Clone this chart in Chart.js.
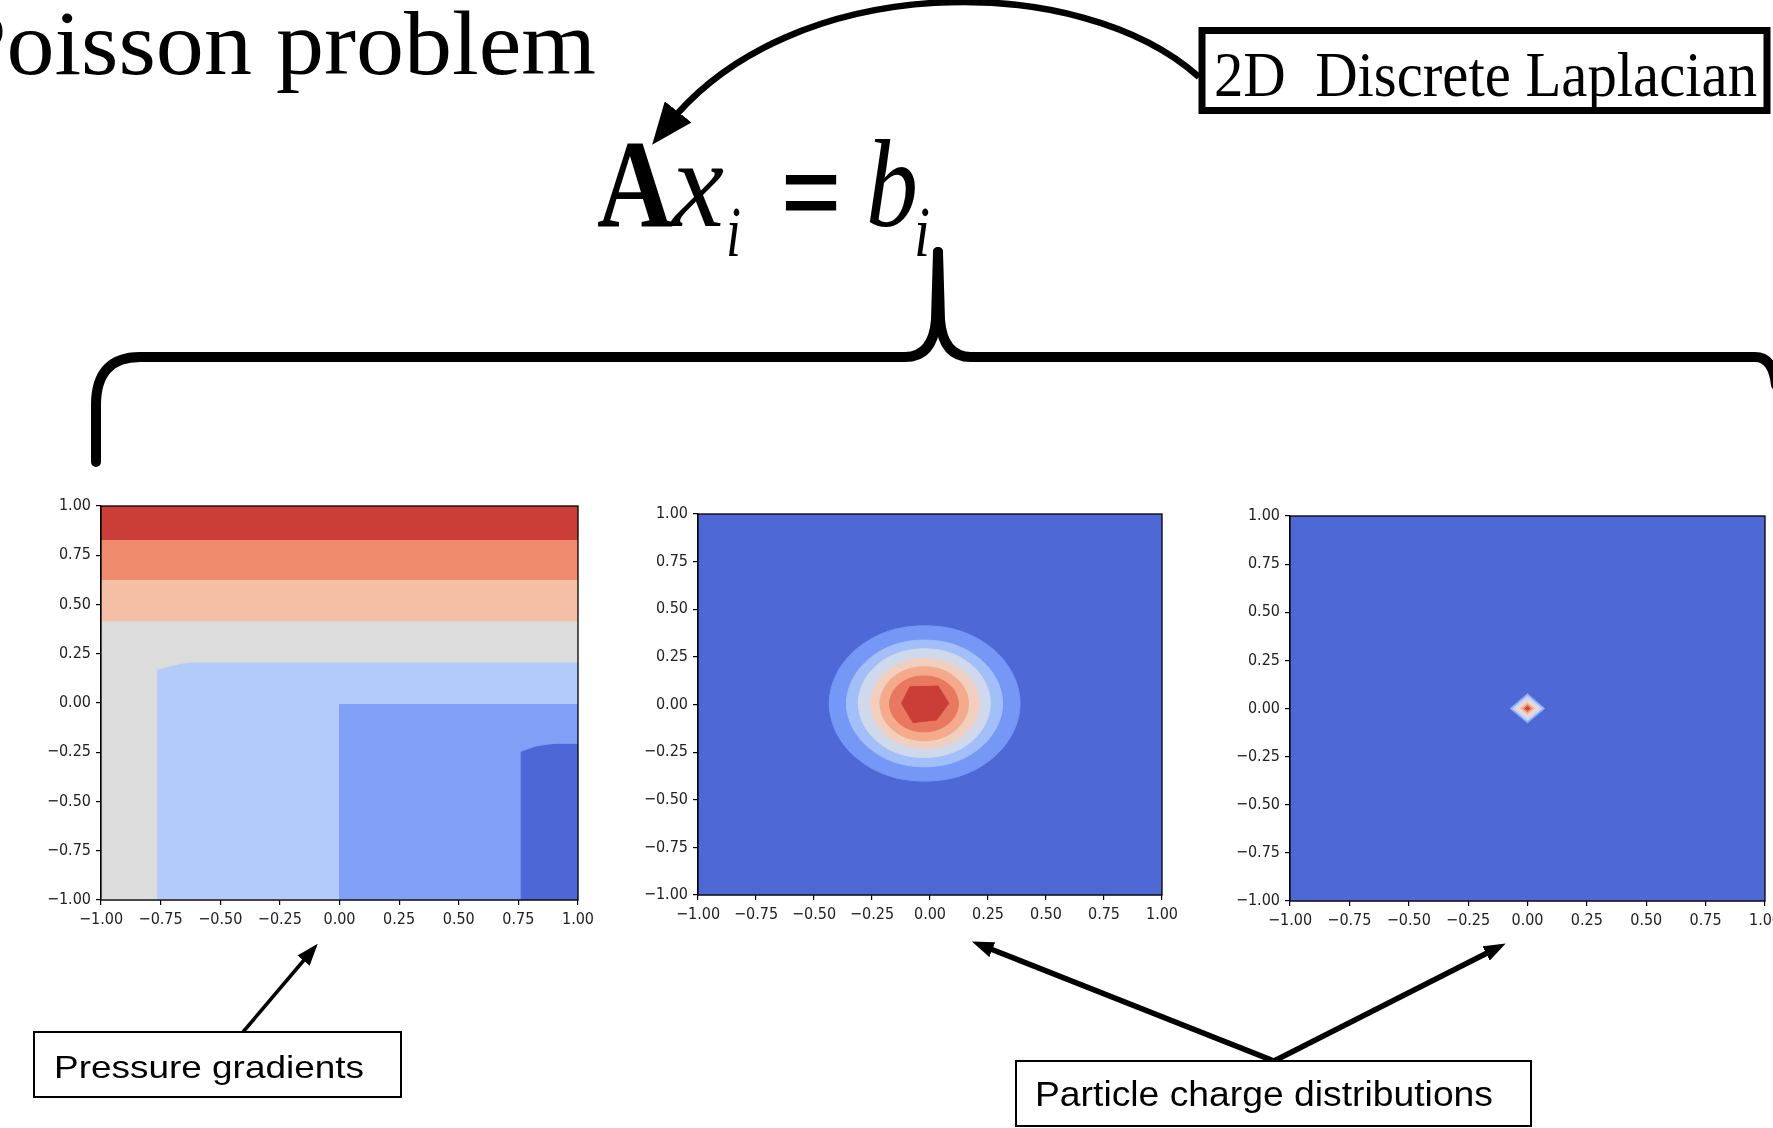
<!DOCTYPE html>
<html>
<head>
<meta charset="utf-8">
<title>Poisson problem</title>
<script src="https://cdn.jsdelivr.net/npm/chart.js@4.4.1/dist/chart.umd.min.js"></script>
<style>
  html, body { margin: 0; padding: 0; background: #fff; width: 1773px; height: 1128px; overflow: hidden; }
  canvas { position: absolute; }
  svg { position: absolute; left: 0; top: 0; pointer-events: none; }
  .serif { font-family: "Liberation Serif", "DejaVu Serif", serif; }
  .sans { font-family: "Liberation Sans", Arial, sans-serif; }
</style>
</head>
<body>
<canvas id="pressureChart" width="577" height="449" style="left:31px;top:491px"></canvas>
<canvas id="blobChart" width="564" height="436" style="left:628px;top:499px"></canvas>
<canvas id="pointChart" width="575" height="440" style="left:1220px;top:501px"></canvas>

<svg width="1773" height="1128" viewBox="0 0 1773 1128">
  <defs>
    <marker id="bigHead" markerUnits="userSpaceOnUse" markerWidth="42" markerHeight="34" refX="18" refY="17" orient="auto">
      <path d="M0,0 L42,17 L0,34 Z" fill="#000"/>
    </marker>
    <marker id="smallHead" markerUnits="userSpaceOnUse" markerWidth="22" markerHeight="16" refX="10" refY="8" orient="auto">
      <path d="M0,0 L22,8 L0,16 Z" fill="#000"/>
    </marker>
  </defs>

  <!-- titulo y ecuacion -->
  <text class="serif" x="-47" y="74" font-size="92" textLength="643" lengthAdjust="spacingAndGlyphs">Poisson problem</text>
  <text class="serif" x="597" y="226" font-size="124" font-weight="bold" textLength="76" lengthAdjust="spacingAndGlyphs">A</text>
  <text class="serif" x="672" y="226" font-size="124" font-style="italic" textLength="52" lengthAdjust="spacingAndGlyphs">x</text>
  <text class="serif" x="726" y="256" font-size="72" font-style="italic" textLength="15" lengthAdjust="spacingAndGlyphs">i</text>
  <text class="serif" x="782" y="236" font-size="130" stroke="#000" stroke-width="3" textLength="58" lengthAdjust="spacingAndGlyphs">=</text>
  <text class="serif" x="866" y="226" font-size="124" font-style="italic" textLength="52" lengthAdjust="spacingAndGlyphs">b</text>
  <text class="serif" x="914" y="256" font-size="72" font-style="italic" textLength="16" lengthAdjust="spacingAndGlyphs">i</text>

  <!-- caja "2D Discrete Laplacian" y flecha curva -->
  <rect x="1202" y="30.5" width="565" height="80" fill="#fff" stroke="#000" stroke-width="7"/>
  <text class="serif" x="1214" y="96" font-size="64" textLength="543" lengthAdjust="spacingAndGlyphs" style="white-space:pre">2D  Discrete Laplacian</text>
  <path d="M1199,77 C1080,-30 790,-30 667,126" fill="none" stroke="#000" stroke-width="6.5" marker-end="url(#bigHead)"/>

  <!-- llave -->
  <path d="M96,462 L96,405 Q96,357 140,357 L905,357 Q933,357 936,320 L938,252" fill="none" stroke="#000" stroke-width="10" stroke-linejoin="round" stroke-linecap="round"/>
  <path d="M938,252 L940,320 Q943,357 971,357 L1755,357 Q1773,357 1776,385" fill="none" stroke="#000" stroke-width="10" stroke-linejoin="round" stroke-linecap="round"/>

  <!-- cajas inferiores -->
  <path d="M243,1032 L310,953" fill="none" stroke="#000" stroke-width="3.5" marker-end="url(#smallHead)"/>
  <rect x="34" y="1032" width="367" height="65" fill="#fff" stroke="#000" stroke-width="2"/>
  <text class="sans" x="54" y="1078" font-size="32" textLength="310" lengthAdjust="spacingAndGlyphs">Pressure gradients</text>

  <path d="M1274,1061 L983,946" fill="none" stroke="#000" stroke-width="5.5" marker-end="url(#smallHead)"/>
  <path d="M1274,1061 L1495,949" fill="none" stroke="#000" stroke-width="5.5" marker-end="url(#smallHead)"/>
  <rect x="1016" y="1061" width="515" height="65" fill="#fff" stroke="#000" stroke-width="2"/>
  <text class="sans" x="1035" y="1106" font-size="35" textLength="458" lengthAdjust="spacingAndGlyphs">Particle charge distributions</text>
</svg>

<script>
// Ticks compartidos por los tres graficos
const tickValues = [-1, -0.75, -0.5, -0.25, 0, 0.25, 0.5, 0.75, 1];
const tickLabels = ["\u22121.00", "\u22120.75", "\u22120.50", "\u22120.25", "0.00", "0.25", "0.50", "0.75", "1.00"];

// Grafico 1: gradientes de presion (regiones de contorno, de abajo hacia arriba)
const pressureColors = ["#dcdcdc", "#f5bfa6", "#ef8a6c", "#cb3e38", "#b2cbf9", "#7fa0f6", "#4d68d6"];
const pressureGray = [[-1, -1], [1, -1], [1, 1], [-1, 1]];
const pressureLightSalmon = [[-1, 0.417], [1, 0.417], [1, 1], [-1, 1]];
const pressureSalmon = [[-1, 0.627], [1, 0.627], [1, 1], [-1, 1]];
const pressureRed = [[-1, 0.83], [1, 0.83], [1, 1], [-1, 1]];
const pressureLightBlue = [[-0.762, -1], [-0.762, 0.166], [-0.72, 0.18], [-0.688, 0.19], [-0.655, 0.198], [-0.623, 0.203], [1, 0.203], [1, -1]];
const pressureBlue = [[0, -1], [0, -0.008], [1, -0.008], [1, -1]];
const pressureDarkBlue = [[0.762, -1], [0.762, -0.249], [0.79, -0.237], [0.822, -0.224], [0.855, -0.217], [0.903, -0.21], [1, -0.21], [1, -1]];

// Grafico 2: distribucion de carga ancha (anillos de afuera hacia adentro)
const blobColors = ["#4e68d6", "#7597f5", "#a2bffa", "#cfd9eb", "#f0cfbe", "#f5aa8c", "#e8785f", "#cb3e38"];
const blobBackground = [[-1, -1], [1, -1], [1, 1], [-1, 1]];
const blobRing1 = [[-0.434, 0.005], [-0.314, 0.294], [-0.023, 0.413], [0.268, 0.294], [0.388, 0.005], [0.268, -0.283], [-0.023, -0.402], [-0.314, -0.283]];
const blobRing2 = [[-0.36, 0.005], [-0.262, 0.24], [-0.024, 0.338], [0.214, 0.24], [0.313, 0.005], [0.214, -0.229], [-0.024, -0.327], [-0.262, -0.229]];
const blobRing3 = [[-0.309, 0.007], [-0.226, 0.209], [-0.025, 0.292], [0.177, 0.209], [0.26, 0.007], [0.177, -0.195], [-0.025, -0.278], [-0.226, -0.195]];
const blobRing4 = [[-0.257, 0.005], [-0.188, 0.172], [-0.022, 0.241], [0.144, 0.172], [0.213, 0.005], [0.144, -0.162], [-0.022, -0.231], [-0.188, -0.162]];
const blobRing5 = [[-0.215, 0.004], [-0.16, 0.141], [-0.025, 0.198], [0.11, 0.141], [0.166, 0.004], [0.11, -0.133], [-0.025, -0.19], [-0.16, -0.133]];
const blobRing6 = [[-0.174, 0.004], [-0.131, 0.107], [-0.026, 0.15], [0.079, 0.107], [0.122, 0.004], [0.079, -0.1], [-0.026, -0.143], [-0.131, -0.1]];
const blobCore = [[-0.123, 0.006], [-0.087, 0.093], [0.035, 0.097], [0.081, 0.006], [0.028, -0.081], [-0.073, -0.095]];

// Grafico 3: carga puntual (rombos de afuera hacia adentro)
const pointColors = ["#4e68d6", "#8fb0f7", "#c9d7f0", "#ecd9cf", "#f3b89c", "#e47d63", "#cf453c"];
const pointBackground = [[-1, -1], [1, -1], [1, 1], [-1, 1]];
const pointRing1 = [[-0.073, 0], [0, 0.076], [0.072, 0], [0, -0.074]];
const pointRing2 = [[-0.062, 0], [0, 0.064], [0.061, 0], [0, -0.062]];
const pointRing3 = [[-0.048, 0], [0, 0.047], [0.049, 0], [0, -0.045]];
const pointRing4 = [[-0.03, 0], [0, 0.03], [0.03, 0], [0, -0.03]];
const pointRing5 = [[-0.018, 0], [0, 0.019], [0.018, 0], [0, -0.018]];
const pointCore = [[-0.009, 0], [0, 0.009], [0.009, 0], [0, -0.009]];

const tickFont = { family: "'DejaVu Sans Condensed', 'DejaVu Sans', sans-serif", size: 16 };

// Opciones de cada eje (-1 a 1, ticks hacia afuera)
const axisOptions = (id) => ({
    type: "linear",
    min: -1,
    max: 1,
    afterBuildTicks: (scale) => {
        scale.ticks = tickValues.map((v) => ({ value: v }));
    },
    afterFit: (scale) => {
        if (id === "x") scale.height = 40;
        else scale.width = 70;
    },
    ticks: {
        callback: (value, index) => tickLabels[index],
        color: "#222",
        font: tickFont,
        padding: 5,
        autoSkip: false,
        maxRotation: 0
    },
    grid: { drawOnChartArea: false, drawTicks: true, tickLength: 5, color: "#000", lineWidth: 1.2 },
    border: { display: true, color: "#000", width: 1.3 }
});

// Marco negro alrededor del area del grafico
const framePlugin = {
    id: "frame",
    afterDatasetsDraw: (chart) => {
        const { ctx, chartArea } = chart;
        ctx.save();
        ctx.strokeStyle = "#000";
        ctx.lineWidth = 1.3;
        ctx.strokeRect(chartArea.left, chartArea.top, chartArea.right - chartArea.left, chartArea.bottom - chartArea.top);
        ctx.restore();
    }
};

// Convertir un poligono [[x, y], ...] en un dataset relleno.
// Si es curvo se repiten los vecinos del inicio para que el contorno cierre sin pico.
const toDataset = (polygon, color, order, tension) => {
    const last = polygon.length - 1;
    const path = tension > 0
        ? [polygon[last]].concat(polygon, [polygon[0], polygon[1]])
        : polygon.concat([polygon[0]]);
    return {
        data: path.map(([x, y]) => ({ x, y })),
        showLine: true,
        fill: "shape",
        backgroundColor: color,
        borderColor: color,
        borderWidth: 1,
        pointRadius: 0,
        tension: tension,
        order: order
    };
};

const renderContour = (canvasId, polygons, colors, tensions) => {
    const datasets = polygons.map((polygon, i) =>
        toDataset(polygon, colors[i], polygons.length - i, tensions[i])
    );
    new Chart(document.querySelector(canvasId), {
        type: "scatter",
        data: { datasets },
        options: {
            responsive: false,
            animation: false,
            events: [],
            layout: { padding: { top: 15, right: 30, left: 0, bottom: 0 } },
            plugins: { legend: { display: false }, tooltip: { enabled: false } },
            scales: { x: axisOptions("x"), y: axisOptions("y") }
        },
        plugins: [framePlugin]
    });
};

renderContour(
    "#pressureChart",
    [pressureGray, pressureLightSalmon, pressureSalmon, pressureRed, pressureLightBlue, pressureBlue, pressureDarkBlue],
    pressureColors,
    [0, 0, 0, 0, 0, 0, 0]
);

renderContour(
    "#blobChart",
    [blobBackground, blobRing1, blobRing2, blobRing3, blobRing4, blobRing5, blobRing6, blobCore],
    blobColors,
    [0, 0.38, 0.38, 0.38, 0.38, 0.38, 0.38, 0]
);

renderContour(
    "#pointChart",
    [pointBackground, pointRing1, pointRing2, pointRing3, pointRing4, pointRing5, pointCore],
    pointColors,
    [0, 0, 0, 0, 0, 0, 0]
);
</script>
</body>
</html>
